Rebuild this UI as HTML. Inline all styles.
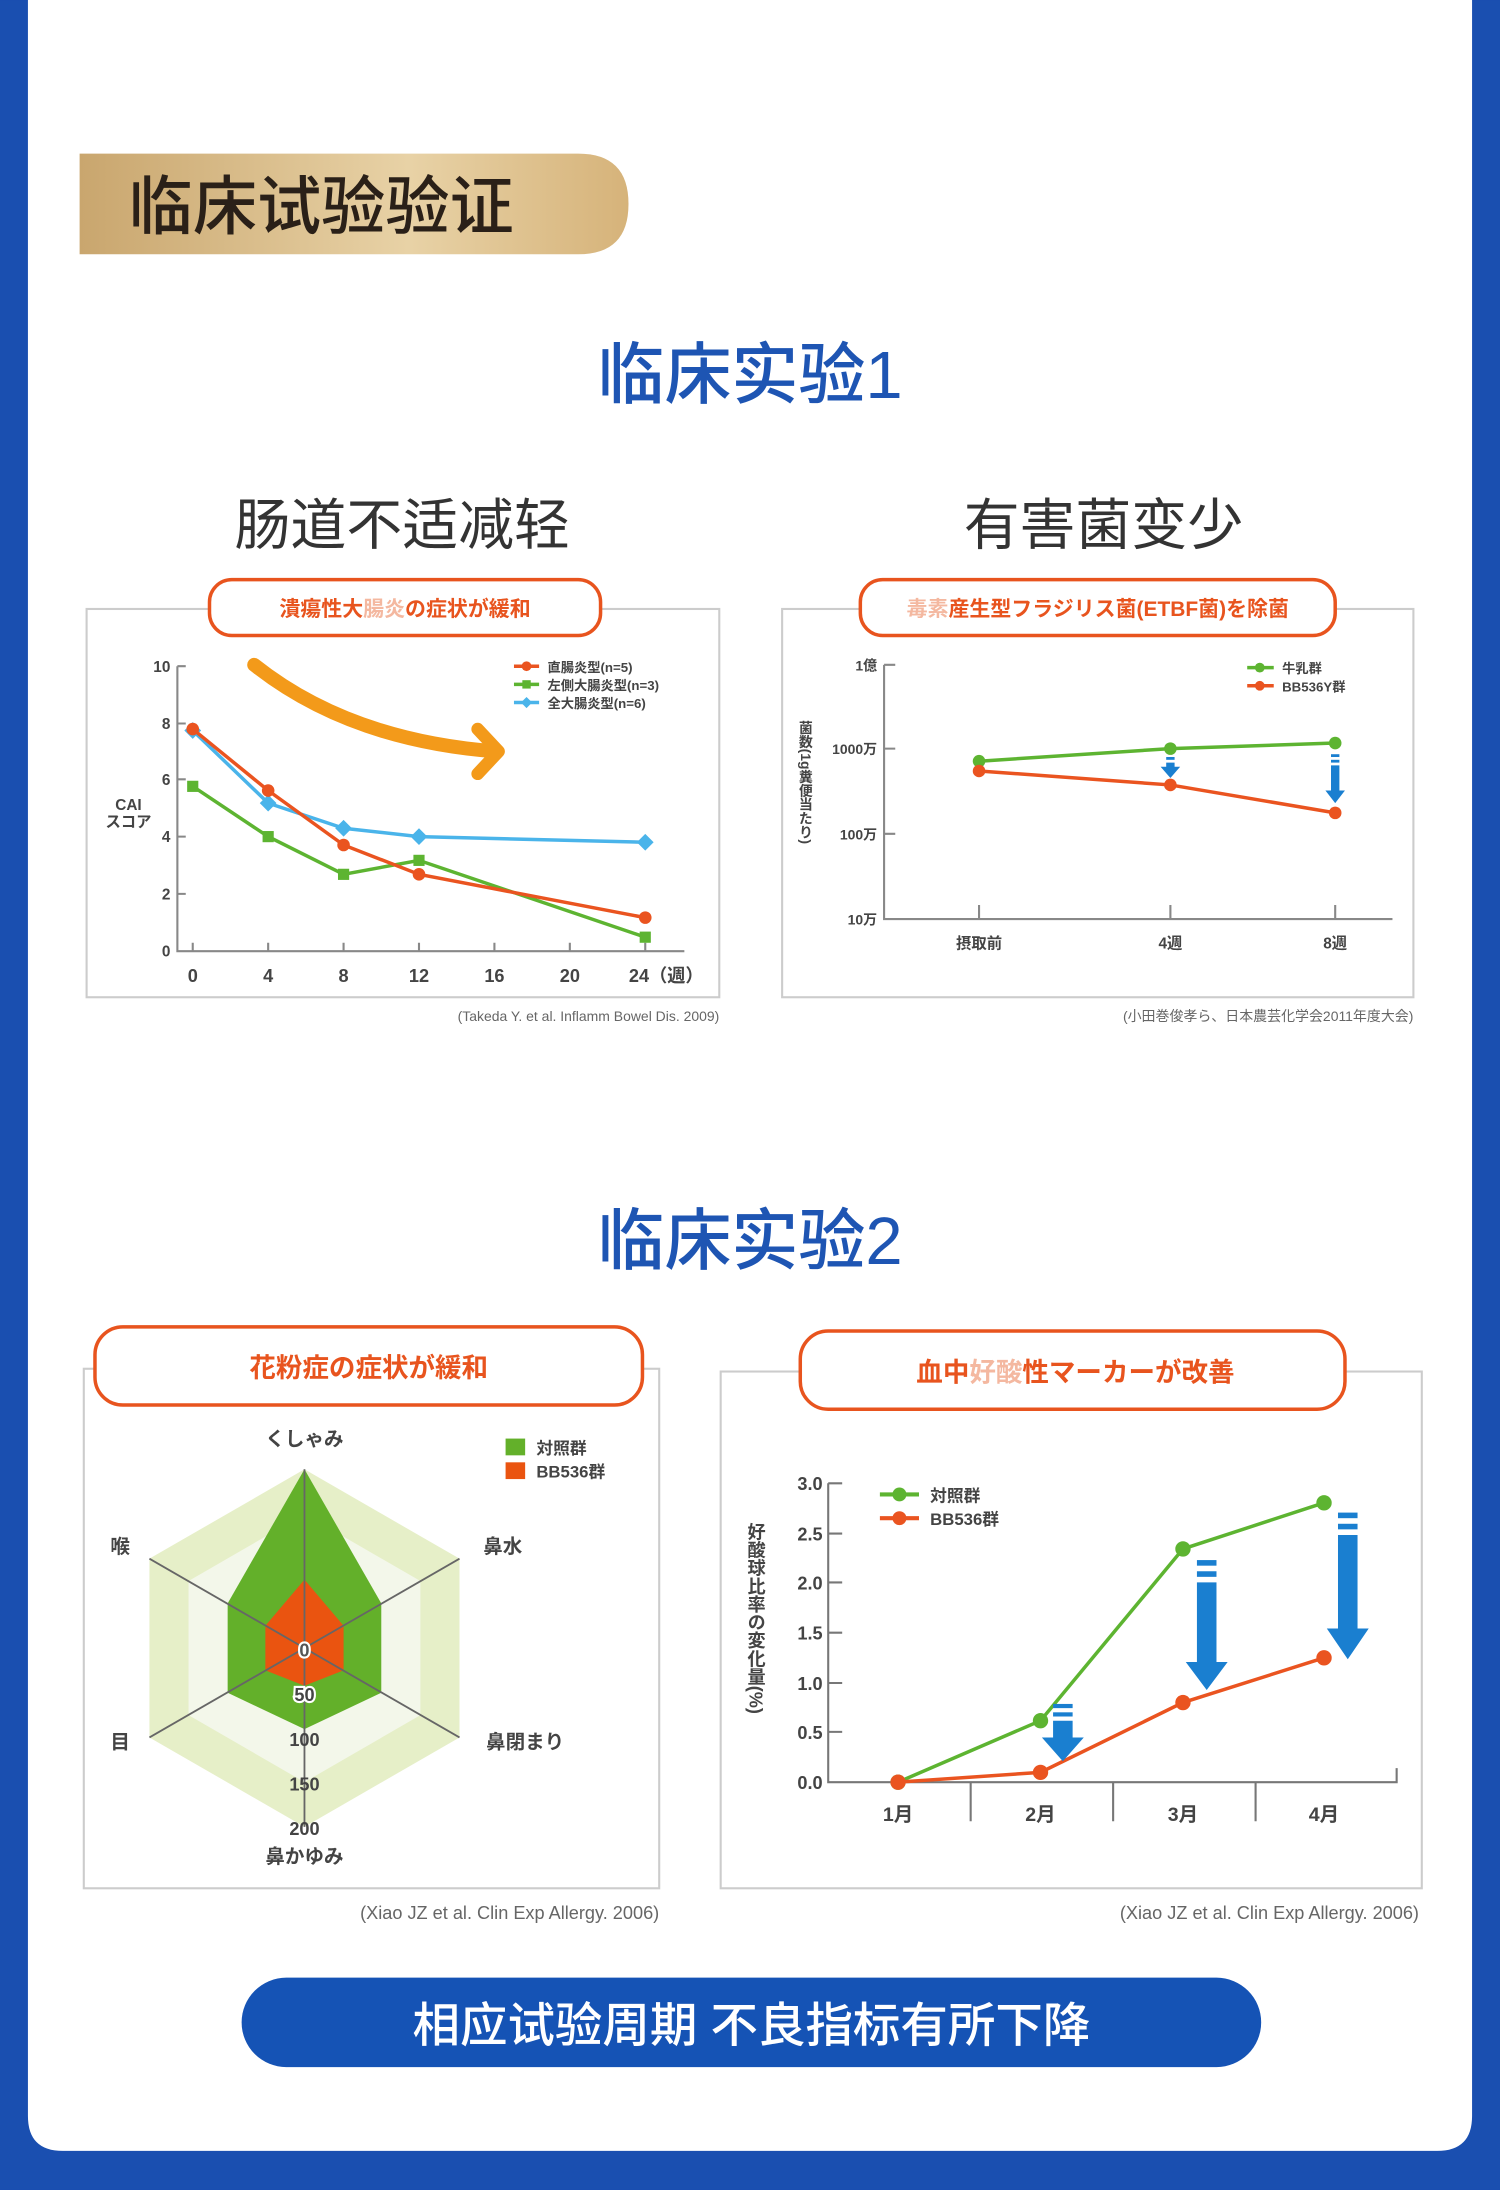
<!DOCTYPE html>
<html><head><meta charset="utf-8"><style>
html,body{margin:0;padding:0;background:#1a4fb0;}
svg{display:block;}
text{font-family:"Liberation Sans","Noto Sans CJK JP",sans-serif;}
.v{writing-mode:tb;glyph-orientation-vertical:0;}
</style></head><body>
<svg width="1500" height="2190" viewBox="0 0 1074 1568" xmlns="http://www.w3.org/2000/svg">
<defs>
<linearGradient id="gold" x1="0" x2="1" y1="0" y2="0">
<stop offset="0" stop-color="#c9a66e"/><stop offset="0.6" stop-color="#e8d2a6"/><stop offset="1" stop-color="#d6b37a"/>
</linearGradient>
</defs>
<rect x="0" y="0" width="1074" height="1568" fill="#1a4fb0"/>
<path d="M20 0 H1054 V1515 Q1054 1540 1029 1540 H45 Q20 1540 20 1515 Z" fill="#fff"/>
<path d="M57 110 H414 Q450 110 450 146 Q450 182 414 182 H57 Z" fill="url(#gold)"/>
<text x="92" y="164" font-size="46" fill="#2a2018" font-family="Noto Sans CJK SC" font-weight="500">临床试验验证</text>
<text x="537" y="285" font-size="48" fill="#1e55b3" text-anchor="middle" font-family="Noto Sans CJK SC" font-weight="500">临床实验1</text>
<text x="288" y="390" font-size="40" fill="#333" text-anchor="middle">肠道不适减轻</text>
<text x="790" y="390" font-size="40" fill="#333" text-anchor="middle">有害菌变少</text>

<rect x="62" y="436" width="453" height="278" fill="#fff" stroke="#ccc" stroke-width="1.5"/>
<rect x="150" y="415" width="280" height="40" rx="16" fill="#fff" stroke="#e8541e" stroke-width="2.5"/>
<text x="290" y="441" font-size="15" font-weight="bold" fill="#e8541e" text-anchor="middle">潰瘍性大<tspan fill="#f4b8a0">腸炎</tspan>の症状が緩和</text>
<g stroke="#888" stroke-width="1.5" fill="none">
<path d="M127 477 V681 H490"/>
<path d="M127 477 h6 M127 518 h6 M127 558 h6 M127 599 h6 M127 640 h6"/>
<path d="M138 681 v-6 M192 681 v-6 M246 681 v-6 M300 681 v-6 M354 681 v-6 M408 681 v-6 M462 681 v-6"/>
</g>
<g font-size="11" fill="#444" text-anchor="end" font-weight="bold">
<text x="122" y="481">10</text><text x="122" y="522">8</text><text x="122" y="562">6</text><text x="122" y="603">4</text><text x="122" y="644">2</text><text x="122" y="685">0</text>
</g>
<text x="92" y="580" font-size="11" fill="#444" text-anchor="middle" font-weight="bold">CAI</text>
<text x="92" y="592" font-size="11" fill="#444" text-anchor="middle" font-weight="bold">スコア</text>
<g font-size="13" fill="#444" text-anchor="middle" font-weight="bold">
<text x="138" y="703">0</text><text x="192" y="703">4</text><text x="246" y="703">8</text><text x="300" y="703">12</text><text x="354" y="703">16</text><text x="408" y="703">20</text><text x="477" y="703">24（週）</text>
</g>
<path d="M182 476 Q250 530 355 538" stroke="#f39a1a" stroke-width="10" fill="none" stroke-linecap="round"/>
<path d="M342 522 L357 538 L342 554" stroke="#f39a1a" stroke-width="9" fill="none" stroke-linecap="round" stroke-linejoin="round"/>
<polyline points="138,523 192,575 246,593 300,599 462,603" fill="none" stroke="#4ab4ea" stroke-width="2.5"/>
<g fill="#4ab4ea"><path d="M138 517l6 6-6 6-6-6z M192 569l6 6-6 6-6-6z M246 587l6 6-6 6-6-6z M300 593l6 6-6 6-6-6z M462 597l6 6-6 6-6-6z"/></g>
<polyline points="138,563 192,599 246,626 300,616 462,671" fill="none" stroke="#5db431" stroke-width="2.5"/>
<g fill="#5db431"><rect x="134" y="559" width="8" height="8"/><rect x="188" y="595" width="8" height="8"/><rect x="242" y="622" width="8" height="8"/><rect x="296" y="612" width="8" height="8"/><rect x="458" y="667" width="8" height="8"/></g>
<polyline points="138,522 192,566 246,605 300,626 462,657" fill="none" stroke="#ea5420" stroke-width="2.5"/>
<g fill="#ea5420"><circle cx="138" cy="522" r="4.5"/><circle cx="192" cy="566" r="4.5"/><circle cx="246" cy="605" r="4.5"/><circle cx="300" cy="626" r="4.5"/><circle cx="462" cy="657" r="4.5"/></g>
<g font-size="9.5" font-weight="bold" fill="#444">
<line x1="368" y1="477" x2="386" y2="477" stroke="#ea5420" stroke-width="2.5"/><circle cx="377" cy="477" r="3.5" fill="#ea5420"/><text x="392" y="481">直腸炎型(n=5)</text>
<line x1="368" y1="490" x2="386" y2="490" stroke="#5db431" stroke-width="2.5"/><rect x="374" y="487" width="6" height="6" fill="#5db431"/><text x="392" y="494">左側大腸炎型(n=3)</text>
<line x1="368" y1="503" x2="386" y2="503" stroke="#4ab4ea" stroke-width="2.5"/><path d="M377 499l4 4-4 4-4-4z" fill="#4ab4ea"/><text x="392" y="507">全大腸炎型(n=6)</text>
</g>
<text x="515" y="731" font-size="10" fill="#666" text-anchor="end">(Takeda Y. et al. Inflamm Bowel Dis. 2009)</text>

<rect x="560" y="436" width="452" height="278" fill="#fff" stroke="#ccc" stroke-width="1.5"/>
<rect x="616" y="415" width="340" height="40" rx="16" fill="#fff" stroke="#e8541e" stroke-width="2.5"/>
<text x="786" y="441" font-size="15" font-weight="bold" fill="#e8541e" text-anchor="middle"><tspan fill="#f4b8a0">毒素</tspan>産生型フラジリス菌(ETBF菌)を除菌</text>
<g stroke="#888" stroke-width="1.5" fill="none">
<path d="M633 476 V658 H997"/>
<path d="M633 476 h8 M633 536 h8 M633 597 h8"/>
<path d="M701 658 v-10 M838 658 v-10 M956 658 v-10"/>
</g>
<g font-size="10" fill="#444" text-anchor="end" font-weight="bold">
<text x="628" y="480">1億</text><text x="628" y="540">1000万</text><text x="628" y="601">100万</text><text x="628" y="662">10万</text>
</g>
<text class="v" x="577" y="516" font-size="10" fill="#444" font-weight="bold">菌数(1g糞便当たり)</text>
<g font-size="11" fill="#444" text-anchor="middle" font-weight="bold">
<text x="701" y="679">摂取前</text><text x="838" y="679">4週</text><text x="956" y="679">8週</text>
</g>
<polyline points="701,545 838,536 956,532" fill="none" stroke="#5db431" stroke-width="2.5"/>
<g fill="#5db431"><circle cx="701" cy="545" r="4.5"/><circle cx="838" cy="536" r="4.5"/><circle cx="956" cy="532" r="4.5"/></g>
<polyline points="701,552 838,562 956,582" fill="none" stroke="#ea5420" stroke-width="2.5"/>
<g fill="#ea5420"><circle cx="701" cy="552" r="4.5"/><circle cx="838" cy="562" r="4.5"/><circle cx="956" cy="582" r="4.5"/></g>
<g fill="#1a7fd0">
<rect x="835" y="542" width="6" height="2"/><path d="M835 546h6v3h4l-7 8-7-8h4z"/>
<rect x="953" y="540" width="6" height="2"/><rect x="953" y="544" width="6" height="2"/><path d="M953 548h6v18h4l-7 9-7-9h4z"/>
</g>
<g font-size="9.5" font-weight="bold" fill="#444">
<line x1="893" y1="478" x2="912" y2="478" stroke="#5db431" stroke-width="2.5"/><circle cx="902" cy="478" r="3.5" fill="#5db431"/><text x="918" y="482">牛乳群</text>
<line x1="893" y1="491" x2="912" y2="491" stroke="#ea5420" stroke-width="2.5"/><circle cx="902" cy="491" r="3.5" fill="#ea5420"/><text x="918" y="495">BB536Y群</text>
</g>
<text x="1012" y="731" font-size="10" fill="#666" text-anchor="end">(小田巻俊孝ら、日本農芸化学会2011年度大会)</text>

<text x="537" y="905" font-size="48" fill="#1e55b3" text-anchor="middle" font-family="Noto Sans CJK SC" font-weight="500">临床实验2</text>

<rect x="60" y="980" width="412" height="372" fill="#fff" stroke="#ccc" stroke-width="1.5"/>
<rect x="68" y="950" width="392" height="56" rx="20" fill="#fff" stroke="#e8541e" stroke-width="2.5"/>
<text x="264" y="986" font-size="19" font-weight="bold" fill="#e8541e" text-anchor="middle">花粉症の症状が緩和</text>
<g transform="translate(218,1180)">
<polygon points="0,-128 111,-64 111,64 0,128 -111,64 -111,-64" fill="#e6efc8"/>
<polygon points="0,-96 83,-48 83,48 0,96 -83,48 -83,-48" fill="#f3f7ea"/>
<polygon points="0,-128 55,-32 55,32 0,58 -55,32 -55,-32" fill="#63b02a"/>
<polygon points="0,-49 28,-16 28,16 0,27 -28,16 -28,-16" fill="#ea5410"/>
<g stroke="#666" stroke-width="1.3">
<line x1="0" y1="-128" x2="0" y2="128"/><line x1="-111" y1="-64" x2="111" y2="64"/><line x1="-111" y1="64" x2="111" y2="-64"/>
</g>
</g>
<g font-size="13" fill="#444" font-weight="bold" text-anchor="middle">
<text x="218" y="1186" fill="#555" stroke="#fff" stroke-width="3" paint-order="stroke">0</text>
<text x="218" y="1218" stroke="#fff" stroke-width="3" paint-order="stroke">50</text>
<text x="218" y="1250">100</text><text x="218" y="1282">150</text><text x="218" y="1314">200</text>
<text x="218" y="1334" font-size="14">鼻かゆみ</text>
<text x="218" y="1035" font-size="14">くしゃみ</text>
<text x="360" y="1112" font-size="14">鼻水</text>
<text x="376" y="1252" font-size="14">鼻閉まり</text>
<text x="86" y="1112" font-size="14">喉</text>
<text x="86" y="1252" font-size="14">目</text>
</g>
<rect x="362" y="1030" width="14" height="12" fill="#63b02a"/><rect x="362" y="1047" width="14" height="12" fill="#ea5410"/>
<g font-size="12" font-weight="bold" fill="#444"><text x="384" y="1041">対照群</text><text x="384" y="1058">BB536群</text></g>
<text x="472" y="1374" font-size="13" fill="#666" text-anchor="end">(Xiao JZ et al. Clin Exp Allergy. 2006)</text>

<rect x="516" y="982" width="502" height="370" fill="#fff" stroke="#ccc" stroke-width="1.5"/>
<rect x="573" y="953" width="390" height="56" rx="20" fill="#fff" stroke="#e8541e" stroke-width="2.5"/>
<text x="770" y="989" font-size="19" font-weight="bold" fill="#e8541e" text-anchor="middle">血中<tspan fill="#f4b8a0">好酸</tspan>性マーカーが改善</text>
<g stroke="#777" stroke-width="1.5" fill="none">
<path d="M593 1062 V1276 H1000 V1266"/>
<path d="M593 1062 h10 M593 1098 h10 M593 1133 h10 M593 1169 h10 M593 1205 h10 M593 1240 h10"/>
<path d="M695 1276 v28 M797 1276 v28 M899 1276 v28"/>
</g>
<g font-size="13" fill="#444" text-anchor="end" font-weight="bold">
<text x="589" y="1067">3.0</text><text x="589" y="1103">2.5</text><text x="589" y="1138">2.0</text><text x="589" y="1174">1.5</text><text x="589" y="1210">1.0</text><text x="589" y="1245">0.5</text><text x="589" y="1281">0.0</text>
</g>
<text class="v" x="541" y="1090" font-size="13" fill="#444" font-weight="bold">好酸球比率の変化量(%)</text>
<g font-size="14" fill="#444" text-anchor="middle" font-weight="bold">
<text x="643" y="1304">1月</text><text x="745" y="1304">2月</text><text x="847" y="1304">3月</text><text x="948" y="1304">4月</text>
</g>
<polyline points="643,1276 745,1232 847,1109 948,1076" fill="none" stroke="#5db431" stroke-width="2.5"/>
<g fill="#5db431"><circle cx="643" cy="1276" r="5.5"/><circle cx="745" cy="1232" r="5.5"/><circle cx="847" cy="1109" r="5.5"/><circle cx="948" cy="1076" r="5.5"/></g>
<polyline points="643,1276 745,1269 847,1219 948,1187" fill="none" stroke="#ea5420" stroke-width="2.5"/>
<g fill="#ea5420"><circle cx="643" cy="1276" r="5.5"/><circle cx="745" cy="1269" r="5.5"/><circle cx="847" cy="1219" r="5.5"/><circle cx="948" cy="1187" r="5.5"/></g>
<g fill="#1a7fd0">
<rect x="754" y="1220" width="14" height="3"/><rect x="754" y="1226" width="14" height="3"/><path d="M754 1232h14v12h8l-15 17-15-17h8z"/>
<rect x="857" y="1117" width="14" height="4"/><rect x="857" y="1125" width="14" height="4"/><path d="M857 1133h14v57h8l-15 20-15-20h8z"/>
<rect x="958" y="1083" width="14" height="4"/><rect x="958" y="1091" width="14" height="4"/><path d="M958 1099h14v67h8l-15 22-15-22h8z"/>
</g>
<g font-size="12" font-weight="bold" fill="#444">
<line x1="630" y1="1070" x2="658" y2="1070" stroke="#5db431" stroke-width="3"/><circle cx="644" cy="1070" r="5" fill="#5db431"/><text x="666" y="1075">対照群</text>
<line x1="630" y1="1087" x2="658" y2="1087" stroke="#ea5420" stroke-width="3"/><circle cx="644" cy="1087" r="5" fill="#ea5420"/><text x="666" y="1092">BB536群</text>
</g>
<text x="1016" y="1374" font-size="13" fill="#666" text-anchor="end">(Xiao JZ et al. Clin Exp Allergy. 2006)</text>

<rect x="173" y="1416" width="730" height="64" rx="32" fill="#1553b5"/>
<text x="538" y="1462" font-size="34" fill="#fff" text-anchor="middle" font-family="Noto Sans CJK SC" font-weight="500">相应试验周期 不良指标有所下降</text>
</svg>
</body></html>
